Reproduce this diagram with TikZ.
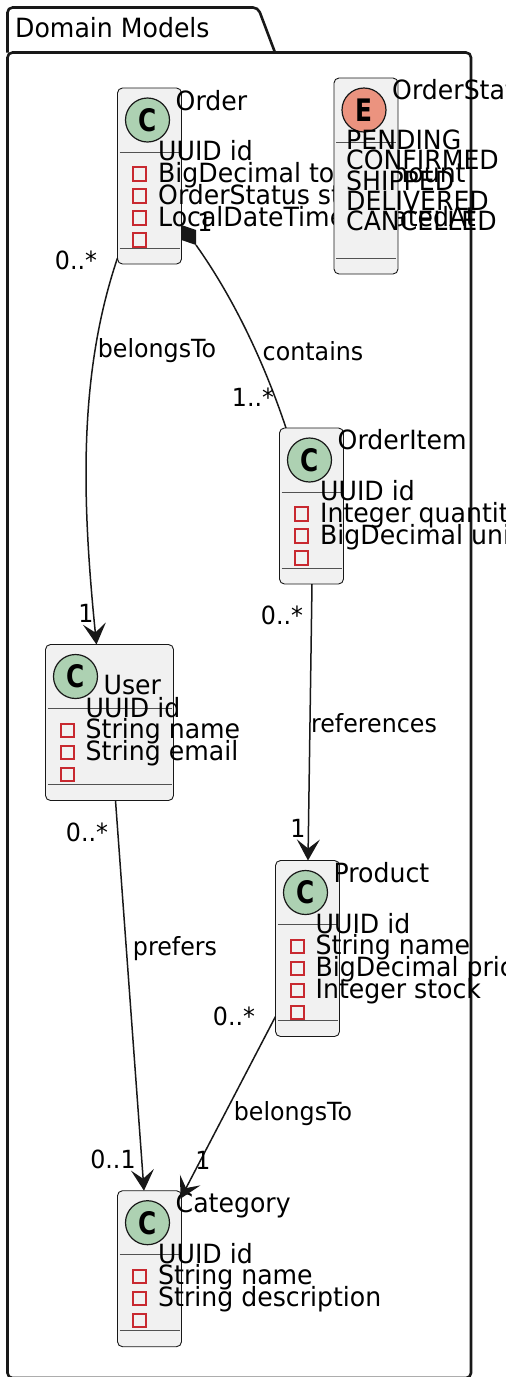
\documentclass[tikz,border=0pt]{standalone}
\usepackage{xcolor}
\usepackage{fontspec}
\setmainfont[FakeStretch=0.95]{DejaVu Sans}
\newfontfamily\spotfont[FakeStretch=0.8]{DejaVu Sans}
\usetikzlibrary{arrows.meta}
\definecolor{boxgray}{HTML}{F1F1F1}
\definecolor{inkblack}{HTML}{181818}
\definecolor{spotgreen}{HTML}{ADD1B2}
\definecolor{spotred}{HTML}{EB937F}
\definecolor{visred}{HTML}{C82930}

\begin{document}
\begin{tikzpicture}[
    x=1pt, y=-1pt,
    classbox/.style={rectangle, draw=inkblack, line width=0.9pt, rounded corners=5pt, fill=boxgray, anchor=north west, inner sep=0pt, outer sep=0pt, minimum width=64pt},
    spot/.style={circle, draw=inkblack, line width=1.2pt, minimum size=44pt, inner sep=0pt, font=\spotfont\fontsize{31}{31}\selectfont\bfseries},
    namebox/.style={anchor=base west, inner sep=0pt, font=\fontsize{26.5}{26.5}\selectfont},
    member/.style={anchor=base west, inner sep=0pt, font=\fontsize{26.5}{26.5}\selectfont},
    visib/.style={rectangle, draw=visred, line width=2pt, minimum size=13.3pt, inner sep=0pt},
    rulerline/.style={draw=inkblack!75, line width=0.9pt},
    edgetext/.style={inner sep=0pt, font=\fontsize{25}{25}\selectfont},
    arrow/.style={-{Stealth[length=21pt,width=23pt,inset=9pt]}, draw=inkblack, line width=1.5pt},
    plainedge/.style={draw=inkblack, line width=1.5pt}
]
    \useasboundingbox (0,0) rectangle (506,1377);

    % Package
    \draw[inkblack, line width=2.6pt, fill=white, rounded corners=5pt] (7.5,52.5) -- (7.5,7.5) -- (258,7.5) -- (275,52.5);
    \draw[inkblack, line width=2.6pt, rounded corners=5pt] (275,52.5) -- (471,52.5) -- (471,1378) -- (7.5,1378) -- (7.5,52.5) -- (275,52.5);
    \node[namebox] (pkgname) at (15,37.7) {Domain Models};

    % Order
    \node[classbox, minimum height=176pt] (order) at (117.5,88) {};
    \node[spot, fill=spotgreen] (orderspot) at ([shift={(30,32)}]order.north west) {C};
    \node[namebox] (ordername) at ([shift={(58,22)}]order.north west) {Order};
    \draw[rulerline] ([shift={(2,64)}]order.north west) -- ([shift={(-2,64)}]order.north east);
    \draw[rulerline] ([shift={(2,160)}]order.north west) -- ([shift={(-2,160)}]order.north east);
    \node[member] (orderid) at ([shift={(40.5,72.7)}]order.north west) {UUID id};
    \node[visib] (ordervisa) at ([shift={(22,86)}]order.north west) {};
    \node[member] (ordertotal) at ([shift={(40.5,94)}]order.north west) {BigDecimal totalAmount};
    \node[visib] (ordervisb) at ([shift={(22,108)}]order.north west) {};
    \node[member] (orderstatus) at ([shift={(40.5,116)}]order.north west) {OrderStatus status};
    \node[visib] (ordervisc) at ([shift={(22,130)}]order.north west) {};
    \node[member] (ordercreated) at ([shift={(40.5,138)}]order.north west) {LocalDateTime createdAt};
    \node[visib] (ordervisd) at ([shift={(22,152)}]order.north west) {};

    % OrderStatus
    \node[classbox, minimum height=196pt] (status) at (334,78) {};
    \node[spot, fill=spotred] (statusspot) at ([shift={(30,32)}]status.north west) {E};
    \node[namebox] (statusname) at ([shift={(58,21.3)}]status.north west) {OrderStatus};
    \draw[rulerline] ([shift={(2,64)}]status.north west) -- ([shift={(-2,64)}]status.north east);
    \draw[rulerline] ([shift={(2,180)}]status.north west) -- ([shift={(-2,180)}]status.north east);
    \node[member] (pending) at ([shift={(12,71)}]status.north west) {PENDING};
    \node[member] (confirmed) at ([shift={(12,91)}]status.north west) {CONFIRMED};
    \node[member] (shipped) at ([shift={(12,112)}]status.north west) {SHIPPED};
    \node[member] (delivered) at ([shift={(12,132)}]status.north west) {DELIVERED};
    \node[member] (cancelled) at ([shift={(12,152)}]status.north west) {CANCELLED};

    % OrderItem
    \node[classbox, minimum height=156pt] (item) at (279.5,428) {};
    \node[spot, fill=spotgreen] (itemspot) at ([shift={(30,32)}]item.north west) {C};
    \node[namebox] (itemname) at ([shift={(58,21.5)}]item.north west) {OrderItem};
    \draw[rulerline] ([shift={(2,64)}]item.north west) -- ([shift={(-2,64)}]item.north east);
    \draw[rulerline] ([shift={(2,140)}]item.north west) -- ([shift={(-2,140)}]item.north east);
    \node[member] (itemid) at ([shift={(40.5,72.7)}]item.north west) {UUID id};
    \node[visib] (itemvisa) at ([shift={(22,86)}]item.north west) {};
    \node[member] (itemqty) at ([shift={(40.5,94)}]item.north west) {Integer quantity};
    \node[visib] (itemvisb) at ([shift={(22,108)}]item.north west) {};
    \node[member] (itemprice) at ([shift={(40.5,116)}]item.north west) {BigDecimal unitPrice};
    \node[visib] (itemvisc) at ([shift={(22,130)}]item.north west) {};

    % User
    \node[classbox, minimum width=128pt, minimum height=156pt] (user) at (45.5,644.5) {};
    \node[spot, fill=spotgreen] (userspot) at ([shift={(30,32)}]user.north west) {C};
    \node[namebox] (username) at ([shift={(58,50)}]user.north west) {User};
    \draw[rulerline] ([shift={(2,64)}]user.north west) -- ([shift={(-2,64)}]user.north east);
    \draw[rulerline] ([shift={(2,140)}]user.north west) -- ([shift={(-2,140)}]user.north east);
    \node[member] (userid) at ([shift={(40,72.7)}]user.north west) {UUID id};
    \node[visib] (uservisa) at ([shift={(22,86)}]user.north west) {};
    \node[member] (uname) at ([shift={(40,94)}]user.north west) {String name};
    \node[visib] (uservisb) at ([shift={(22,108)}]user.north west) {};
    \node[member] (uemail) at ([shift={(40,116)}]user.north west) {String email};
    \node[visib] (uservisc) at ([shift={(22,130)}]user.north west) {};

    % Product
    \node[classbox, minimum height=176pt] (product) at (275.5,860.5) {};
    \node[spot, fill=spotgreen] (productspot) at ([shift={(30,32)}]product.north west) {C};
    \node[namebox] (productname) at ([shift={(58,22)}]product.north west) {Product};
    \draw[rulerline] ([shift={(2,64)}]product.north west) -- ([shift={(-2,64)}]product.north east);
    \draw[rulerline] ([shift={(2,160)}]product.north west) -- ([shift={(-2,160)}]product.north east);
    \node[member] (productid) at ([shift={(40,72.7)}]product.north west) {UUID id};
    \node[visib] (productvisa) at ([shift={(22,86)}]product.north west) {};
    \node[member] (productstr) at ([shift={(40,94)}]product.north west) {String name};
    \node[visib] (productvisb) at ([shift={(22,108)}]product.north west) {};
    \node[member] (productprice) at ([shift={(40,116)}]product.north west) {BigDecimal price};
    \node[visib] (productvisc) at ([shift={(22,130)}]product.north west) {};
    \node[member] (productstock) at ([shift={(40,138)}]product.north west) {Integer stock};
    \node[visib] (productvisd) at ([shift={(22,152)}]product.north west) {};

    % Category
    \node[classbox, minimum height=156pt] (category) at (117.5,1190.7) {};
    \node[spot, fill=spotgreen] (categoryspot) at ([shift={(30,32)}]category.north west) {C};
    \node[namebox] (categoryname) at ([shift={(58,22)}]category.north west) {Category};
    \draw[rulerline] ([shift={(2,64)}]category.north west) -- ([shift={(-2,64)}]category.north east);
    \draw[rulerline] ([shift={(2,140)}]category.north west) -- ([shift={(-2,140)}]category.north east);
    \node[member] (categoryid) at ([shift={(40.5,72.7)}]category.north west) {UUID id};
    \node[visib] (categoryvisa) at ([shift={(22,86)}]category.north west) {};
    \node[member] (categorystr) at ([shift={(40.5,94)}]category.north west) {String name};
    \node[visib] (categoryvisb) at ([shift={(22,108)}]category.north west) {};
    \node[member] (categorydesc) at ([shift={(40.5,116)}]category.north west) {String description};
    \node[visib] (categoryvisc) at ([shift={(22,130)}]category.north west) {};

    % Arrows
    \draw[arrow] ([yshift=6pt]order.south west) .. controls (78,375) and (82,500) .. ([xshift=-13pt]user.north);
    \fill[inkblack] ([shift={(0,-39)}]order.south east) -- ([shift={(14.5,-34)}]order.south east) -- ([shift={(14.5,-19)}]order.south east) -- ([shift={(0,-24)}]order.south east) -- cycle;
    \draw[plainedge] ([shift={(14.5,-19)}]order.south east) .. controls (235,300) and (265,365) .. ([xshift=-25.5pt]item.north);
    \draw[arrow] ([xshift=0.5pt]item.south) -- ([xshift=0.5pt]product.north);
    \draw[arrow] ([xshift=6pt]user.south) -- ([xshift=-5.5pt]category.north);
    \draw[arrow] ([yshift=20pt]product.south west) -- ([shift={(-1,8)}]category.north east);

    % Labels
    \node[edgetext] (lblbelongsa) at (157,351) {belongsTo};
    \node[edgetext] (lblcontains) at (313,351) {contains};
    \node[edgetext] (lblreferences) at (374,723) {references};
    \node[edgetext] (lblprefers) at (175,949) {prefers};
    \node[edgetext] (lblbelongsb) at (293,1114) {belongsTo};
    \node[edgetext] (multa) at (76,260) {0..*};
    \node[edgetext] (multb) at (86,613) {1};
    \node[edgetext] (multc) at (205,222) {1};
    \node[edgetext] (multd) at (253,397) {1..*};
    \node[edgetext] (multe) at (282,615) {0..*};
    \node[edgetext] (multf) at (298,828) {1};
    \node[edgetext] (multg) at (87,832) {0..*};
    \node[edgetext] (multh) at (113,1159) {0..1};
    \node[edgetext] (multi) at (234,1016) {0..*};
    \node[edgetext] (multj) at (203,1160) {1};
\end{tikzpicture}
\end{document}
